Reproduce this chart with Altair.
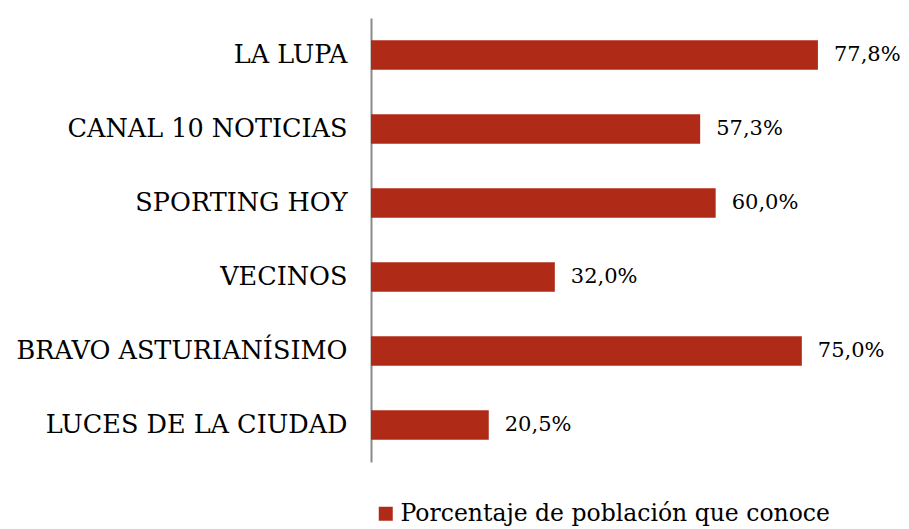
import altair as alt
import pandas as pd

categories = ["LA LUPA", "CANAL 10 NOTICIAS", "SPORTING HOY", "VECINOS",
              "BRAVO ASTURIANÍSIMO", "LUCES DE LA CIUDAD"]
values = [77.8, 57.3, 60.0, 32.0, 75.0, 20.5]
labels = ["77,8%", "57,3%", "60,0%", "32,0%", "75,0%", "20,5%"]
series_name = "Porcentaje de población que conoce"

df = pd.DataFrame({"cat": categories, "val": values, "lab": labels,
                   "serie": [series_name] * len(categories)})

FONT = "DejaVu Serif"
y = alt.Y("cat:N", sort=categories, title=None,
          scale=alt.Scale(paddingInner=0.6, paddingOuter=0.3),
          axis=alt.Axis(ticks=False, labelPadding=24, labelFont=FONT,
                        labelFontSize=25.5, labelColor="#000000",
                        domainColor="#8a8a8a", domainWidth=2,
                        labelLimit=0))
x = alt.X("val:Q", title=None, scale=alt.Scale(domain=[0, 90], nice=False),
          axis=None)

bars = alt.Chart(df).mark_bar().encode(
    x=x, y=y,
    color=alt.Color("serie:N", scale=alt.Scale(range=["#B02A18"]),
                    legend=alt.Legend(title=None, orient="none",
                                      legendX=3, legendY=484,
                                      symbolType="square", symbolSize=196,
                                      symbolStrokeWidth=0,
                                      labelFont=FONT, labelFontSize=23.5,
                                      labelColor="#000000", labelLimit=0,
                                      labelOffset=3))
)
text = alt.Chart(df).mark_text(align="left", baseline="middle", dx=16,
                               font=FONT, fontSize=21, color="#000000").encode(
    x=x, y=y, text="lab:N")

chart = (bars + text).properties(
    width=517, height=444,
    autosize=alt.AutoSizeParams(type="none"),
    padding={"left": 363, "top": 10, "right": 13, "bottom": 67},
).configure_view(stroke=None).configure_axis(grid=False)

chart.save("out.html", embed_options={"renderer": "svg", "actions": False})
